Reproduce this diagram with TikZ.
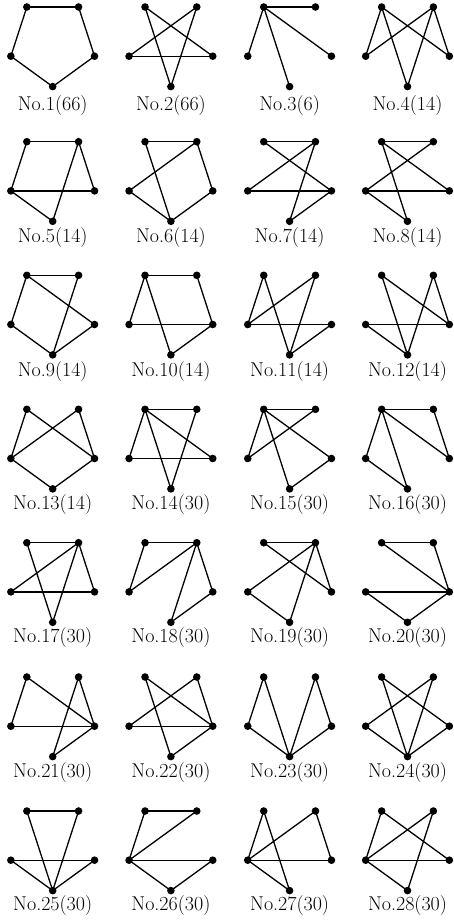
\documentclass[tikz,border=0pt]{standalone}
\usepackage{fontspec}
\tikzset{
  vtx/.style={circle,fill=black,inner sep=0pt,minimum size=7.6pt},
  edge/.style={line width=1.3pt,black},
  lbl/.style={anchor=base,inner sep=0pt,font=\fontsize{20}{24}\selectfont}
}
% #1 id, #2 cx, #3 cy, #4 label baseline y, #5 label text, #6 edges
\newcommand{\gph}[6]{%
  \node[vtx] (g#1a) at ({#2+44*cos(126)},{#3-44*sin(126)}) {};
  \node[vtx] (g#1b) at ({#2+44*cos(54)},{#3-44*sin(54)}) {};
  \node[vtx] (g#1l) at ({#2+44*cos(198)},{#3-44*sin(198)}) {};
  \node[vtx] (g#1r) at ({#2+44*cos(-18)},{#3-44*sin(-18)}) {};
  \node[vtx] (g#1m) at ({#2},{#3+44}) {};
  \foreach \u/\v in {#6} {\draw[edge] (g#1\u.center) -- (g#1\v.center);}
  \node[lbl] (t#1) at ({#2},{#4}) {#5};
}
\begin{document}
\begin{tikzpicture}[x=1pt,y=-1pt]
\useasboundingbox (0,0) rectangle (453,924);
% row 1
\gph{1}{52.7}{42.6}{110.7}{No.1(66)}{a/b,b/r,r/m,m/l,l/a}
\gph{2}{170.9}{42.6}{110.7}{No.2(66)}{a/r,a/m,b/l,b/m,l/r}
\gph{3}{289.6}{42.6}{110.7}{No.3(6)}{a/b,a/l,a/m,a/r}
\gph{4}{407.5}{42.6}{110.7}{No.4(14)}{a/l,a/m,a/r,b/l,b/m,b/r}
% row 2
\gph{5}{52.7}{177.3}{242.3}{No.5(14)}{a/b,a/l,b/r,b/m,l/r,l/m}
\gph{6}{170.9}{177.3}{242.3}{No.6(14)}{a/b,a/m,b/l,b/r,l/m,r/m}
\gph{7}{289.6}{177.3}{242.3}{No.7(14)}{a/b,a/r,b/l,b/m,l/r,r/m}
\gph{8}{407.5}{177.3}{242.3}{No.8(14)}{a/b,a/r,a/m,b/l,l/r,l/m}
% row 3
\gph{9}{52.7}{310.9}{376}{No.9(14)}{a/b,a/l,a/r,b/m,l/m,r/m}
\gph{10}{170.9}{310.9}{376}{No.10(14)}{a/b,a/l,a/m,b/r,l/r,r/m}
\gph{11}{289.6}{310.9}{376}{No.11(14)}{a/l,a/m,b/l,b/m,l/r,r/m}
\gph{12}{407.5}{310.9}{376}{No.12(14)}{a/r,a/m,b/r,b/m,l/r,l/m}
% row 4
\gph{13}{52.7}{444.9}{509}{No.13(14)}{a/l,a/r,b/l,b/r,l/m,r/m}
\gph{14}{170.9}{444.9}{509}{No.14(30)}{a/b,a/l,a/m,a/r,b/m,l/r}
\gph{15}{289.6}{444.9}{509}{No.15(30)}{a/b,a/l,a/m,a/r,b/l,r/m}
\gph{16}{407.5}{444.9}{509}{No.16(30)}{a/b,a/l,a/m,a/r,b/r,l/m}
% row 5
\gph{17}{52.7}{578.3}{642.7}{No.17(30)}{a/b,a/m,b/l,b/r,b/m,l/r}
\gph{18}{170.9}{578.3}{642.7}{No.18(30)}{a/b,a/l,b/l,b/r,b/m,r/m}
\gph{19}{289.6}{578.3}{642.7}{No.19(30)}{a/b,a/r,b/l,b/r,b/m,l/m}
\gph{20}{407.5}{578.3}{642.7}{No.20(30)}{a/b,a/r,b/r,l/r,l/m,r/m}
% row 6
\gph{21}{52.7}{712.6}{777}{No.21(30)}{a/l,a/r,b/r,b/m,l/r,r/m}
\gph{22}{170.9}{712.6}{777}{No.22(30)}{a/m,a/r,b/l,b/r,l/r,r/m}
\gph{23}{289.6}{712.6}{777}{No.23(30)}{a/l,a/m,b/m,b/r,l/m,r/m}
\gph{24}{407.5}{712.6}{777}{No.24(30)}{a/m,a/r,b/l,b/m,l/m,r/m}
% row 7
\gph{25}{52.7}{846.6}{910}{No.25(30)}{a/b,a/m,b/m,l/r,l/m,r/m}
\gph{26}{170.9}{846.6}{910}{No.26(30)}{a/b,a/l,b/l,l/r,l/m,r/m}
\gph{27}{289.6}{846.6}{910}{No.27(30)}{a/l,a/m,b/l,b/r,l/r,l/m}
\gph{28}{407.5}{846.6}{910}{No.28(30)}{a/l,a/r,b/l,b/m,l/r,l/m}
\end{tikzpicture}
\end{document}
